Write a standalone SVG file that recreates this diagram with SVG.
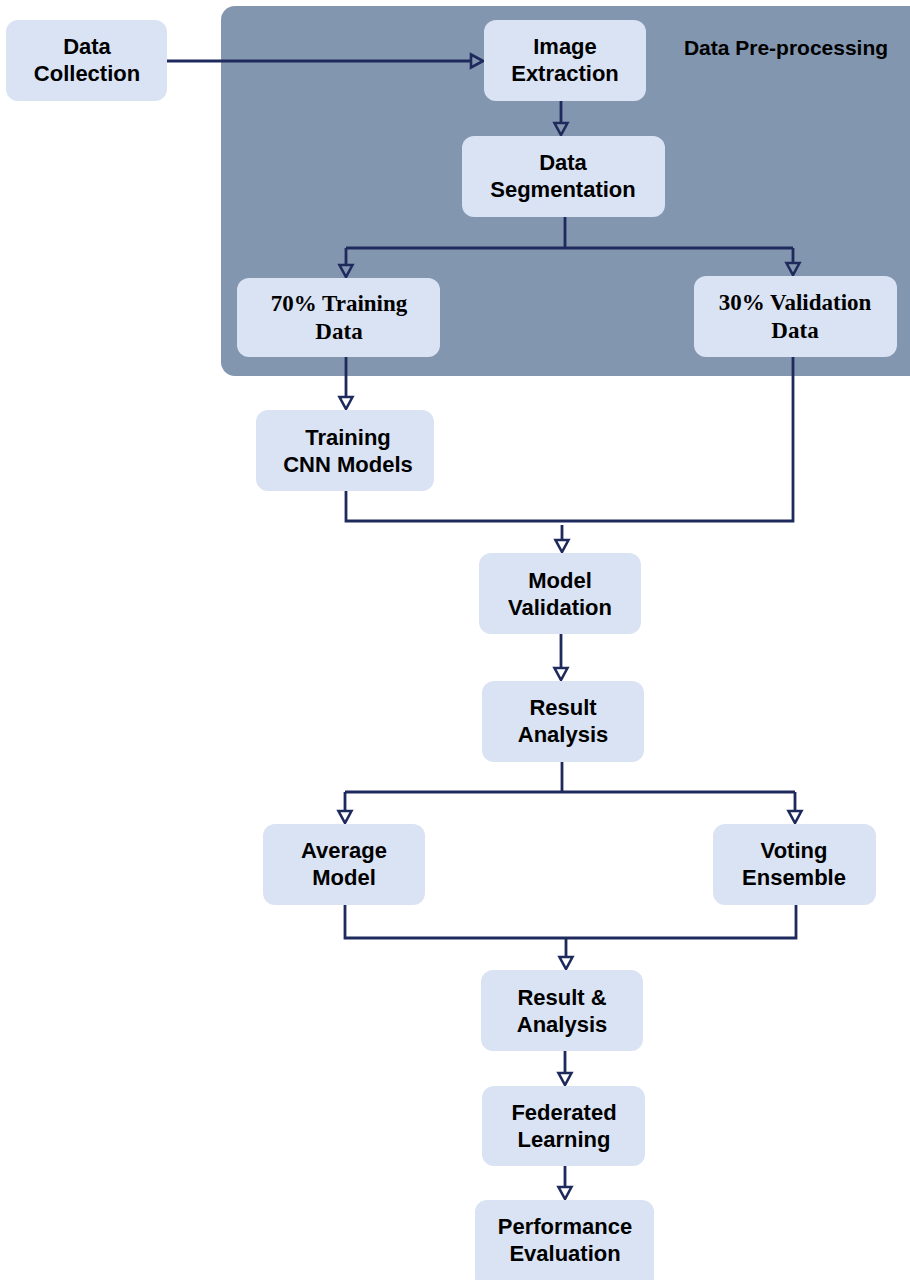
<svg xmlns="http://www.w3.org/2000/svg" width="910" height="1280" viewBox="0 0 910 1280">
<defs>
<style>
.box{fill:#DAE3F3;}
.t{font-family:"Liberation Sans",Arial,sans-serif;font-weight:bold;font-size:22px;fill:#000;text-anchor:middle;}
.s{font-family:"Liberation Serif","Times New Roman",serif;font-weight:bold;font-size:23px;fill:#000;text-anchor:middle;}
.c{fill:none;stroke:#1F2A5C;stroke-width:2.8;}
</style>
<marker id="ah" markerUnits="userSpaceOnUse" viewBox="-2 -9 16 18" markerWidth="16" markerHeight="18" refX="0" refY="0" orient="auto">
<path d="M0,-6.5 L12,0 L0,6.5 Z" fill="none" stroke="#1F2A5C" stroke-width="2.6"/>
</marker>
</defs>
<rect width="910" height="1280" fill="#fff"/>
<g id="preprocessing">
<rect x="221" y="6" width="704" height="370" rx="14" fill="#8396B0"/>
<text class="t" x="786" y="55" style="font-size:21px">Data Pre-processing</text>
</g>
<g id="connectors">
<path class="c" d="M167,61 H471" marker-end="url(#ah)"/>
<path class="c" d="M561,101 V123" marker-end="url(#ah)"/>
<path class="c" d="M565,217 V248 M346,248 H793"/>
<path class="c" d="M346,248 V265" marker-end="url(#ah)"/>
<path class="c" d="M793,248 V263" marker-end="url(#ah)"/>
<path class="c" d="M346,357 V397" marker-end="url(#ah)"/>
<path class="c" d="M346,491 V521 H793 V357"/>
<path class="c" d="M562,525 V540" marker-end="url(#ah)"/>
<path class="c" d="M561,634 V668" marker-end="url(#ah)"/>
<path class="c" d="M562,762 V792 M345,792 H795"/>
<path class="c" d="M345,792 V811" marker-end="url(#ah)"/>
<path class="c" d="M795,792 V811" marker-end="url(#ah)"/>
<path class="c" d="M345,905 V938 H796 V905"/>
<path class="c" d="M566,938 V957" marker-end="url(#ah)"/>
<path class="c" d="M565,1051 V1073" marker-end="url(#ah)"/>
<path class="c" d="M565,1166 V1187" marker-end="url(#ah)"/>
</g>
<g id="data-collection">
<rect class="box" x="6" y="20" width="161" height="81" rx="12"/>
<text class="t" x="87" y="54">Data</text>
<text class="t" x="87" y="81">Collection</text>
</g>
<g id="image-extraction">
<rect class="box" x="484" y="20" width="162" height="81" rx="12"/>
<text class="t" x="565" y="54">Image</text>
<text class="t" x="565" y="81">Extraction</text>
</g>
<g id="data-segmentation">
<rect class="box" x="462" y="136" width="203" height="81" rx="12"/>
<text class="t" x="563" y="170">Data</text>
<text class="t" x="563" y="197">Segmentation</text>
</g>
<g id="training-data">
<rect class="box" x="237" y="278" width="203" height="79" rx="12"/>
<text class="s" x="339" y="311">70% Training</text>
<text class="s" x="339" y="339">Data</text>
</g>
<g id="validation-data">
<rect class="box" x="694" y="276" width="203" height="81" rx="12"/>
<text class="s" x="795" y="310">30% Validation</text>
<text class="s" x="795" y="338">Data</text>
</g>
<g id="training-cnn">
<rect class="box" x="256" y="410" width="178" height="81" rx="12"/>
<text class="t" x="348" y="445">Training</text>
<text class="t" x="348" y="472">CNN Models</text>
</g>
<g id="model-validation">
<rect class="box" x="479" y="553" width="162" height="81" rx="12"/>
<text class="t" x="560" y="588">Model</text>
<text class="t" x="560" y="615">Validation</text>
</g>
<g id="result-analysis">
<rect class="box" x="482" y="681" width="162" height="81" rx="12"/>
<text class="t" x="563" y="715">Result</text>
<text class="t" x="563" y="742">Analysis</text>
</g>
<g id="average-model">
<rect class="box" x="263" y="824" width="162" height="81" rx="12"/>
<text class="t" x="344" y="858">Average</text>
<text class="t" x="344" y="885">Model</text>
</g>
<g id="voting-ensemble">
<rect class="box" x="713" y="824" width="163" height="81" rx="12"/>
<text class="t" x="794" y="858">Voting</text>
<text class="t" x="794" y="885">Ensemble</text>
</g>
<g id="result-and-analysis">
<rect class="box" x="481" y="970" width="162" height="81" rx="12"/>
<text class="t" x="562" y="1005">Result &amp;</text>
<text class="t" x="562" y="1032">Analysis</text>
</g>
<g id="federated-learning">
<rect class="box" x="482" y="1086" width="163" height="80" rx="12"/>
<text class="t" x="564" y="1120">Federated</text>
<text class="t" x="564" y="1147">Learning</text>
</g>
<g id="performance-evaluation">
<rect class="box" x="475" y="1200" width="179" height="90" rx="12"/>
<text class="t" x="565" y="1234">Performance</text>
<text class="t" x="565" y="1261">Evaluation</text>
</g>
</svg>
